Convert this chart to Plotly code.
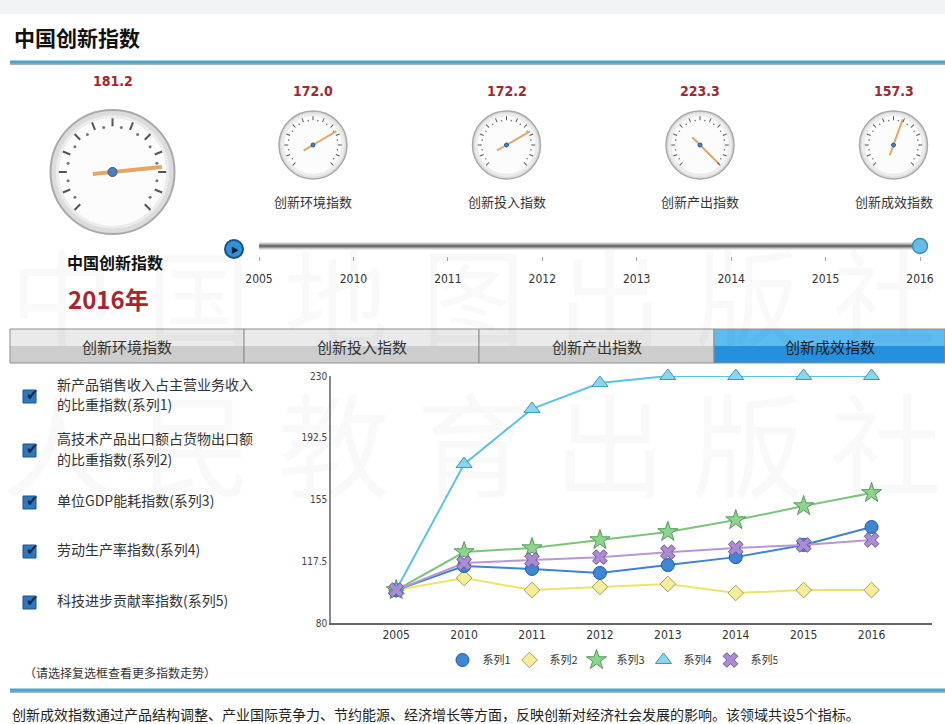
import plotly.graph_objects as go

# ---------------- data ----------------
YEARS = ["2005", "2010", "2011", "2012", "2013", "2014", "2015", "2016"]
SERIES_NAMES = ["系列1", "系列2", "系列3", "系列4", "系列5"]
S1 = [100, 114.6, 112.8, 110.4, 115.2, 120.0, 127.4, 138.3]
S2 = [100, 107.3, 100.0, 101.9, 103.7, 98.2, 100.0, 100.0]
S3 = [100, 123.1, 125.5, 130.4, 135.3, 142.5, 151.0, 159.0]
S4 = [100, 176.5, 210.0, 225.7, 230.0, 230.0, 230.0, 230.0]
S5 = [100, 116.4, 118.3, 120.0, 123.0, 125.5, 127.4, 130.4]
Y_TICKS = [80, 117.5, 155, 192.5, 230]
Y_TICK_TEXT = ["80", "117.5", "155", "192.5", "230"]

MAIN_NAME = "中国创新指数"
MAIN_VALUE = 181.2
CURRENT_YEAR = "2016"
GAUGE_NAMES = ["创新环境指数", "创新投入指数", "创新产出指数", "创新成效指数"]
GAUGE_VALUES = [172.0, 172.2, 223.3, 157.3]
GAUGE_MIN, GAUGE_MAX = 100, 200

TIMELINE_YEARS = ["2005", "2010", "2011", "2012", "2013", "2014", "2015", "2016"]
TAB_NAMES = ["创新环境指数", "创新投入指数", "创新产出指数", "创新成效指数"]
ACTIVE_TAB = 3
CHECK_ITEMS = [
    ["新产品销售收入占主营业务收入", "的比重指数(系列1)"],
    ["高技术产品出口额占货物出口额", "的比重指数(系列2)"],
    ["单位GDP能耗指数(系列3)"],
    ["劳动生产率指数(系列4)"],
    ["科技进步贡献率指数(系列5)"],
]
TITLE = "中国创新指数"
HINT = "（请选择复选框查看更多指数走势）"
FOOTER = ("创新成效指数通过产品结构调整、产业国际竞争力、节约能源、经济增长等方面，"
          "反映创新对经济社会发展的影响。该领域共设5个指标。")
WATERMARK_1 = "中国地图出版社"
WATERMARK_2 = "人民教育出版社"

# ---------------- helpers ----------------
W, H = 945, 724
CJK = "Noto Sans CJK SC, Noto Sans, sans-serif"
NUM = "DejaVu Sans Condensed, Liberation Sans Narrow, Noto Sans, sans-serif"
RED = "#a8262e"


def fx(x):
    return x / W


def fy(y):
    return 1 - y / H


def needle_angle(v):
    v = max(GAUGE_MIN, min(GAUGE_MAX, v))
    return -135 + 270 * (v - GAUGE_MIN) / (GAUGE_MAX - GAUGE_MIN)


def text(x, y, t, size, color="#333", family=CJK, xanchor="center", yanchor="middle"):
    return dict(x=fx(x), y=fy(y), xref="paper", yref="paper", text=t, showarrow=False,
                xanchor=xanchor, yanchor=yanchor, font=dict(family=family, size=size, color=color))


fig = go.Figure()
shapes = []
ann = []

# ---------------- watermark ----------------
for i, ch in enumerate(WATERMARK_1):
    ann.append(text(62 + i * 137, 292, ch, 104, "rgba(0,0,0,0.025)"))
for i, ch in enumerate(WATERMARK_2):
    ann.append(text(58 + i * 138, 440, ch, 112, "rgba(0,0,0,0.025)"))

# ---------------- header ----------------
shapes.append(dict(type="rect", xref="paper", yref="paper", x0=0, x1=1, y0=fy(14), y1=1,
                   fillcolor="#f2f3f4", line=dict(width=0), layer="below"))
ann.append(text(12, 37, "<b>" + TITLE + "</b>", 21, "#111", xanchor="left"))
for yy in (62, 690):
    shapes.append(dict(type="line", xref="paper", yref="paper", x0=fx(10), x1=1, y0=fy(yy + 2), y1=fy(yy + 2),
                       line=dict(color="#9fb4bf", width=2)))
    shapes.append(dict(type="line", xref="paper", yref="paper", x0=fx(10), x1=1, y0=fy(yy), y1=fy(yy),
                       line=dict(color="#49a6cc", width=3)))

# ---------------- gauges ----------------
MAJOR = [(-135 + 22.5 * i) % 360 for i in range(13)]
MINOR = [(-135 + 11.25 + 22.5 * i) % 360 for i in range(12)]

gauges = [dict(name=MAIN_NAME, value=MAIN_VALUE, cx=112.5, cy=172, r=62, big=True)]
for i, (n, v) in enumerate(zip(GAUGE_NAMES, GAUGE_VALUES)):
    gauges.append(dict(name=n, value=v, cx=313 + i * 193.5, cy=145, r=34, big=False))

layout_polars = {}
for k, g in enumerate(gauges):
    pid = "polar" if k == 0 else "polar%d" % (k + 1)
    cx, cy, r = g["cx"], g["cy"], g["r"]
    big = g["big"]
    rf = r * 0.89
    shapes.append(dict(type="circle", xref="paper", yref="paper",
                       x0=fx(cx - r), x1=fx(cx + r), y0=fy(cy + r), y1=fy(cy - r),
                       fillcolor="#dcdcdc", line=dict(color="#a9a9a9", width=2 if big else 1.5),
                       layer="below"))
    layout_polars[pid] = dict(
        domain=dict(x=[fx(cx - rf), fx(cx + rf)], y=[fy(cy + rf), fy(cy - rf)]),
        bgcolor="#fcfcfc",
        radialaxis=dict(visible=False, range=[0, 1]),
        angularaxis=dict(rotation=90, direction="clockwise", showgrid=False, showline=True,
                         linecolor="#ececec", linewidth=3, ticks="inside",
                         ticklen=8 if big else 4, tickwidth=2 if big else 1, tickcolor="#555",
                         tickvals=MAJOR, showticklabels=False),
    )
    a = needle_angle(g["value"])
    fig.add_trace(go.Scatterpolar(r=[0.82] * len(MINOR), theta=MINOR, mode="markers",
                                  marker=dict(size=3 if big else 1.6, color="#777"),
                                  subplot=pid, showlegend=False, hoverinfo="skip"))
    fig.add_trace(go.Scatterpolar(r=[0.36, 0, 0.9], theta=[a + 180, a, a], mode="lines",
                                  line=dict(color="#e3a765", width=4 if big else 2),
                                  subplot=pid, showlegend=False, hoverinfo="skip"))
    fig.add_trace(go.Scatterpolar(r=[0], theta=[0], mode="markers",
                                  marker=dict(size=9 if big else 4, color="#4d7fc0",
                                              line=dict(color="#2c5a95", width=1)),
                                  subplot=pid, showlegend=False, hoverinfo="skip"))
    vy = 81 if big else 91
    ann.append(text(cx, vy, "<b>%.1f</b>" % g["value"], 14, RED, family=NUM))
    if not big:
        ann.append(text(cx, 201, g["name"], 13, "#333"))

ann.append(text(115, 262, "<b>" + MAIN_NAME + "</b>", 16, "#111"))
ann.append(text(108, 298, "<b>" + CURRENT_YEAR + "年</b>", 24, RED))

# ---------------- timeline ----------------
fig.add_trace(go.Scatter(x=[TIMELINE_YEARS[0], TIMELINE_YEARS[-1]], y=[0, 0], xaxis="x2", yaxis="y2",
                         mode="lines", line=dict(color="#c9c9c9", width=7), showlegend=False,
                         hoverinfo="skip", cliponaxis=False))
fig.add_trace(go.Scatter(x=[TIMELINE_YEARS[0], TIMELINE_YEARS[-1]], y=[0, 0], xaxis="x2", yaxis="y2",
                         mode="lines", line=dict(color="#6f6f6f", width=3), showlegend=False,
                         hoverinfo="skip", cliponaxis=False))
fig.add_trace(go.Scatter(x=[CURRENT_YEAR], y=[0], xaxis="x2", yaxis="y2", mode="markers",
                         marker=dict(size=15, color="#66bce4", line=dict(color="#3b8fbf", width=1.5)),
                         showlegend=False, hoverinfo="skip", cliponaxis=False))
shapes.append(dict(type="circle", xref="paper", yref="paper", x0=fx(225), x1=fx(243), y0=fy(258), y1=fy(240),
                   fillcolor="#2f93da", line=dict(color="#1d4f80", width=2)))
ann.append(text(235, 249, "▶", 8, "#0b1a2a"))

# ---------------- tabs ----------------
tab_edges = [10, 244, 479, 714, 945]
for i, name in enumerate(TAB_NAMES):
    x0, x1 = tab_edges[i], tab_edges[i + 1]
    act = i == ACTIVE_TAB
    top, bot = ("#5cbcf1", "#2590dd") if act else ("#eaeaea", "#cdcdcd")
    shapes.append(dict(type="rect", xref="paper", yref="paper", x0=fx(x0), x1=fx(x1), y0=fy(346), y1=fy(329),
                       fillcolor=top, line=dict(width=0)))
    shapes.append(dict(type="rect", xref="paper", yref="paper", x0=fx(x0), x1=fx(x1), y0=fy(363), y1=fy(346),
                       fillcolor=bot, line=dict(width=0)))
    shapes.append(dict(type="rect", xref="paper", yref="paper", x0=fx(x0), x1=fx(x1), y0=fy(363), y1=fy(329),
                       fillcolor="rgba(0,0,0,0)", line=dict(color="#8e8e8e", width=1)))
    ann.append(text((x0 + x1) / 2, 346, name, 15, "#1a1a1a" if act else "#333"))

# ---------------- checklist ----------------
item_y = [394, 448, 500, 549, 600]
for lines, yc in zip(CHECK_ITEMS, item_y):
    shapes.append(dict(type="rect", xref="paper", yref="paper", x0=fx(23), x1=fx(36),
                       y0=fy(yc + 9), y1=fy(yc - 4), fillcolor="#2f78c0", line=dict(color="#1f5590", width=1)))
    ann.append(text(32, yc - 1, "✔", 15, "#14284a"))
    n = len(lines)
    for j, t in enumerate(lines):
        ly = yc + (j - (n - 1) / 2) * 21
        ann.append(text(55, ly, t, 14, "#333", xanchor="left"))
ann.append(text(22, 672, HINT, 12, "#333", xanchor="left"))
ann.append(text(10, 714, FOOTER, 14, "#222", xanchor="left"))

# ---------------- main line chart ----------------
styles = [
    dict(symbol="circle", color="#3f86d6", edge="#1f5ca6", line="#3f82d2", size=13),
    dict(symbol="diamond", color="#f4ee9c", edge="#a9a052", line="#ece46a", size=12),
    dict(symbol="star", color="#8fd391", edge="#4f9e52", line="#7cc47c", size=15),
    dict(symbol="triangle-up", color="#8bd6ee", edge="#3a98bb", line="#5ec3e3", size=14),
    dict(symbol="x", color="#a88dd0", edge="#6e559e", line="#b996d8", size=13),
]
series = [S1, S2, S3, S4, S5]
order = [1, 0, 2, 3, 4]
for idx in order:
    st = styles[idx]
    fig.add_trace(go.Scatter(x=YEARS, y=series[idx], name=SERIES_NAMES[idx], mode="lines+markers",
                             line=dict(color=st["line"], width=2),
                             marker=dict(symbol=st["symbol"], size=st["size"], color=st["color"],
                                         line=dict(color=st["edge"], width=1)),
                             showlegend=False, cliponaxis=False))
for idx in range(5):
    st = styles[idx]
    fig.add_trace(go.Scatter(x=[None], y=[None], name=SERIES_NAMES[idx], mode="markers",
                             marker=dict(symbol=st["symbol"], size=st["size"], color=st["color"],
                                         line=dict(color=st["edge"], width=1))))

fig.update_layout(
    width=W, height=H, autosize=False,
    margin=dict(l=0, r=0, t=0, b=0, autoexpand=False),
    paper_bgcolor="white", plot_bgcolor="rgba(0,0,0,0)",
    font=dict(family=CJK, color="#333"),
    xaxis=dict(domain=[fx(331), fx(932)], type="category", categoryorder="array", categoryarray=YEARS,
               range=[-0.96, 7.89],
               showline=True, linecolor="#666", linewidth=2, showgrid=False, zeroline=False,
               ticks="", tickfont=dict(family=NUM, size=12, color="#333"), fixedrange=True),
    yaxis=dict(domain=[fy(623), fy(376)], range=[80, 230], tickvals=Y_TICKS, ticktext=Y_TICK_TEXT,
               showline=True, linecolor="#8a8a8a", linewidth=1.5, showgrid=False, zeroline=False,
               ticks="", tickfont=dict(family=NUM, size=10, color="#444"), fixedrange=True),
    xaxis2=dict(domain=[fx(259), fx(920)], anchor="y2", type="category", categoryorder="array",
                categoryarray=TIMELINE_YEARS, range=[0, 7],
                showline=False, showgrid=False, zeroline=False, ticks="outside", ticklen=4,
                tickcolor="#aaa", ticklabelstandoff=8,
                tickfont=dict(family=NUM, size=12, color="#333"), fixedrange=True),
    yaxis2=dict(domain=[fy(256), fy(236)], anchor="x2", range=[-1, 1], visible=False, fixedrange=True),
    legend=dict(orientation="h", x=fx(610), xanchor="center", y=fy(660), yanchor="middle",
                font=dict(family=CJK, size=11, color="#333"), bgcolor="rgba(0,0,0,0)",
                itemwidth=30, tracegroupgap=0, entrywidth=22, entrywidthmode="pixels"),
    shapes=shapes,
    annotations=ann,
    **layout_polars,
)

fig.write_html("out.html", config={"displayModeBar": False},
               post_script="document.body.style.margin='0';document.body.style.overflow='hidden';")
